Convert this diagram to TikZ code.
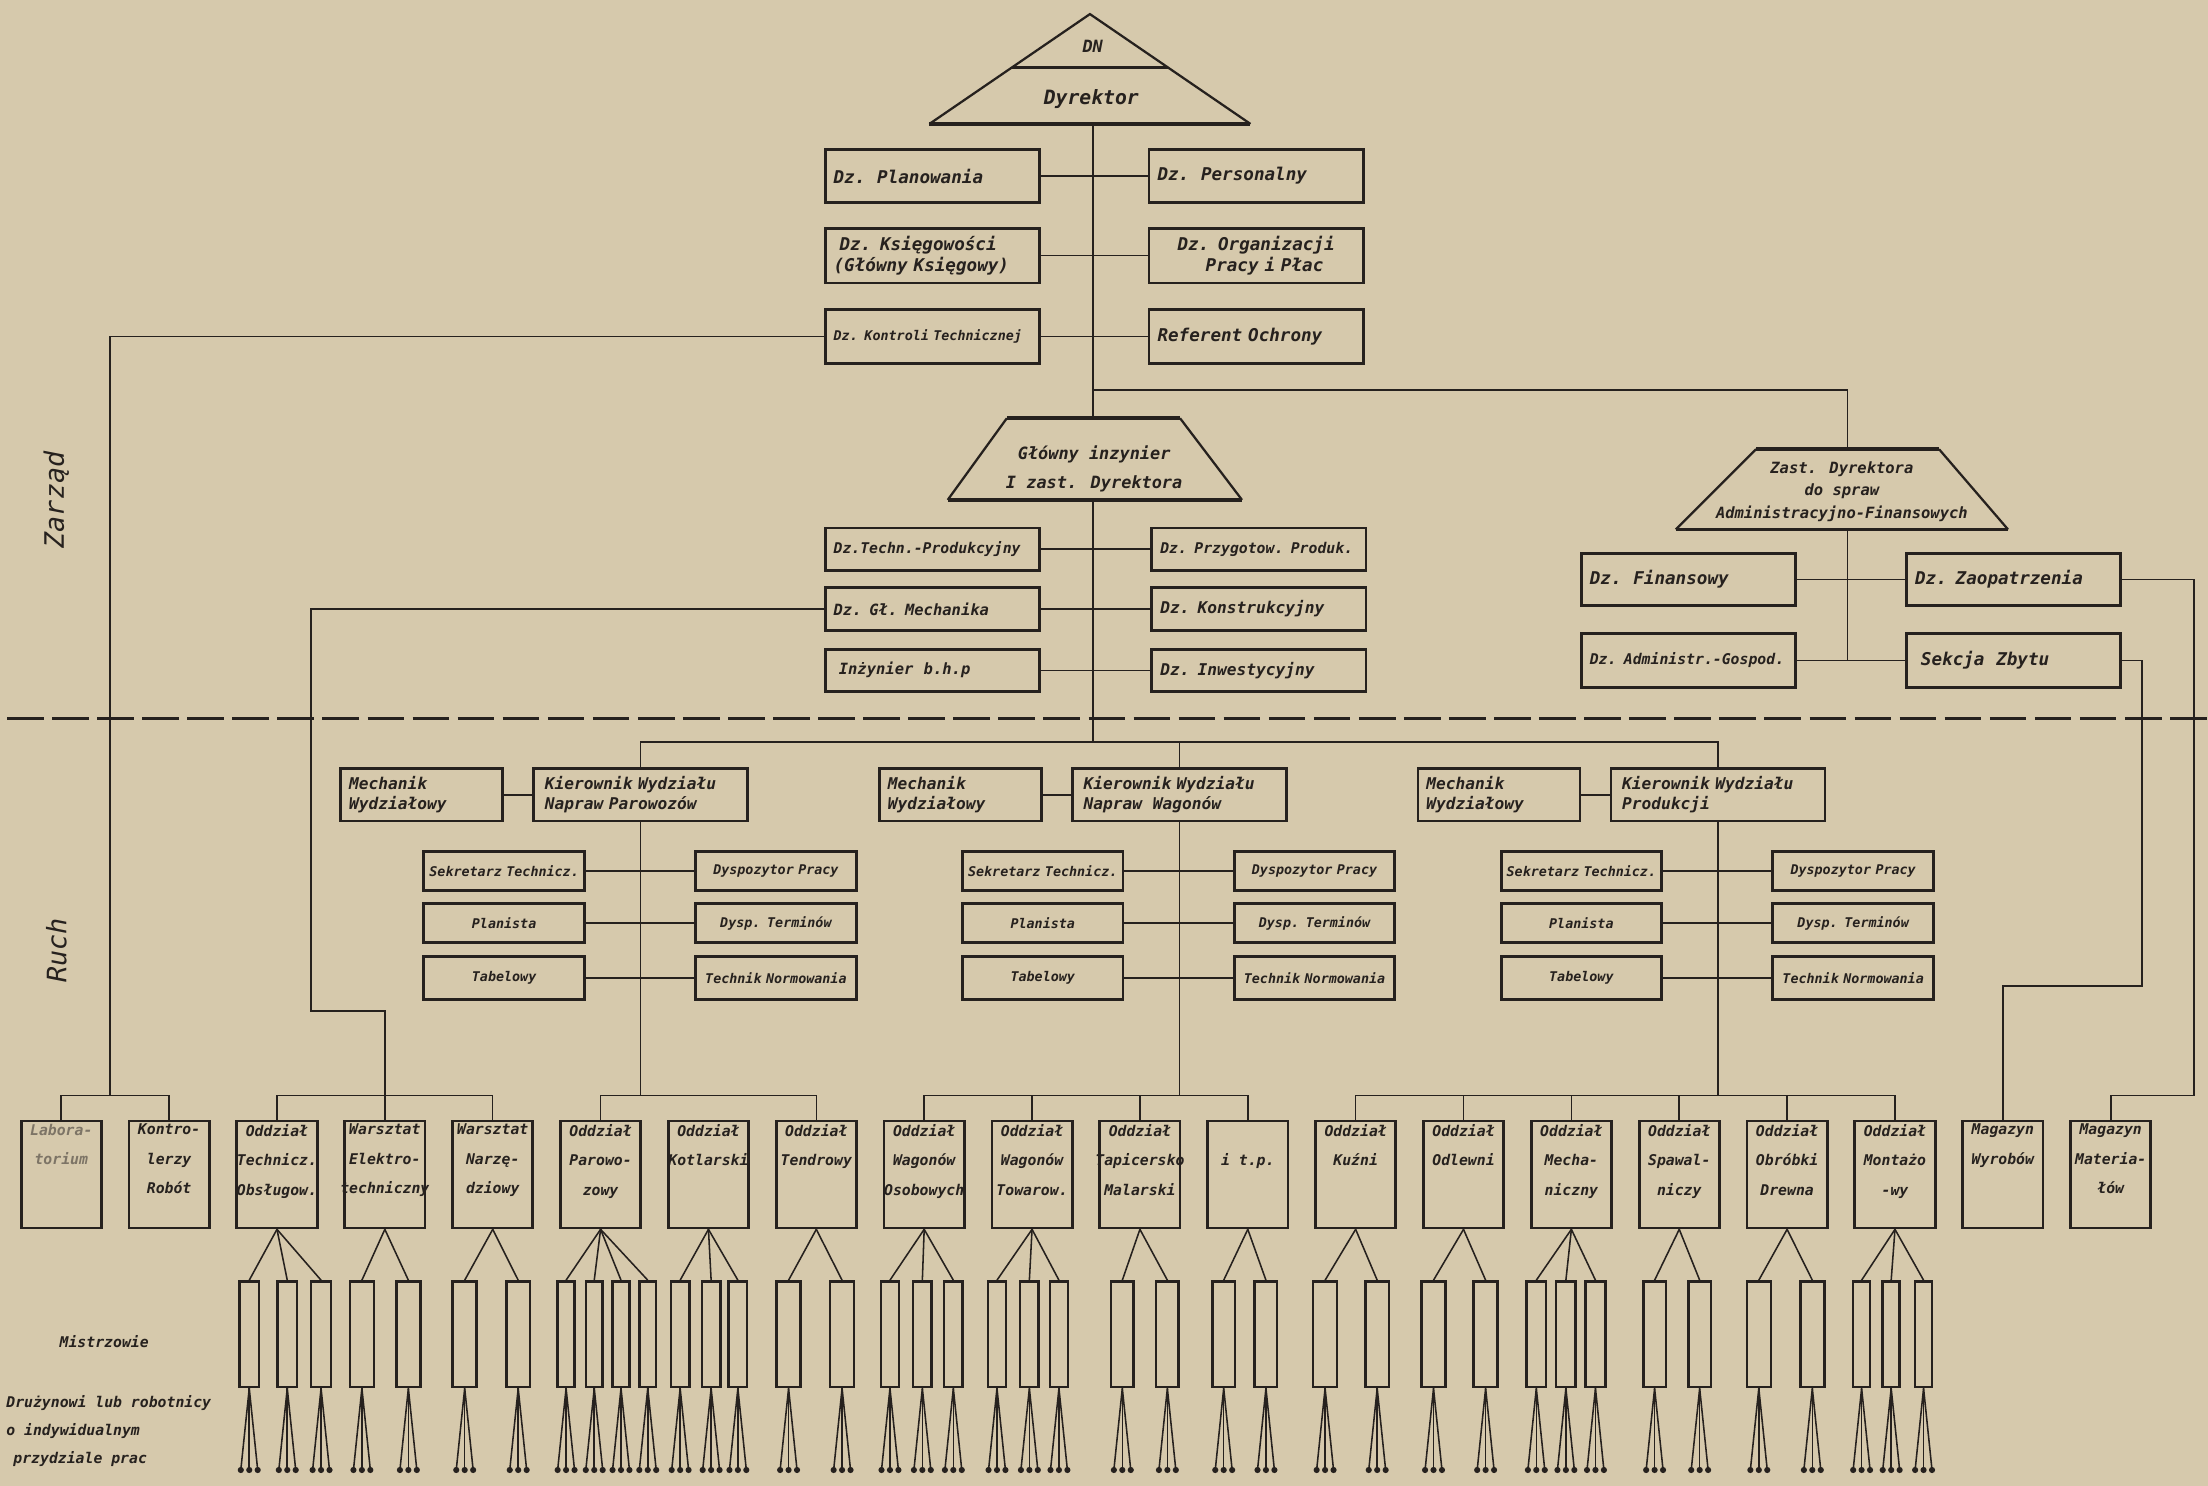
\documentclass[tikz,border=0pt]{standalone}
\usepackage{fontspec}
\usetikzlibrary{positioning}
\newfontfamily\techfont{DejaVu Sans Mono}
\newcommand{\techit}[2]{\techfont\bfseries\itshape\fontsize{#1}{#2}\selectfont}
\newcommand{\techlt}[2]{\techfont\itshape\fontsize{#1}{#2}\selectfont}
\definecolor{paper}{RGB}{214,201,172}
\definecolor{ink}{RGB}{38,33,30}
\definecolor{labgray}{RGB}{125,116,102}

\begin{document}
\begin{tikzpicture}[x=1pt,y=-1pt]
	\tikzset{every node/.style={text=ink},
		link/.style={draw=ink, line width=1.1pt},
		heavy/.style={draw=ink, line width=2.6pt},
		edgeline/.style={draw=ink, line width=1.6pt},
		box/.style={draw=ink, line width=2pt, rectangle, inner xsep=6pt, inner ysep=1pt, minimum width=152pt, minimum height=38pt, text width=140pt, align=left, font=\techit{12.5}{15}},
		gbox/.style={box, minimum height=30pt, font=\techit{10.5}{13}},
		kbox/.style={box, minimum height=37pt, inner xsep=8pt, text width=136pt, font=\techit{11.5}{14}},
		mbox/.style={box, minimum height=37pt, minimum width=115pt, text width=103pt, font=\techit{11.5}{14}},
		sbox/.style={box, minimum height=28pt, minimum width=114pt, text width=110pt, inner xsep=2pt, align=center, font=\techit{9.5}{11}},
		oddzial/.style={draw=ink, line width=2pt, minimum width=57pt, minimum height=76pt, inner sep=0pt},
		olabel/.style={anchor=north, inner sep=3pt, align=center, font=\techit{10.5}{21}},
		mistrz/.style={draw=ink, line width=1.8pt, minimum height=75pt, inner sep=0pt},
		sidelbl/.style={rotate=90, font=\techlt{19}{22}},
		note/.style={font=\techit{10.5}{20}}}

	\useasboundingbox (0,0) rectangle (1568,1055);
	\fill[paper] (0,0) rectangle (1568,1055);

	% Dyrektor
	\coordinate (dn-apex) at (774,10);
	\coordinate (dyr-b) at (776,88);
	\draw[edgeline] (660,88) -- (dn-apex) -- (888,88);
	\draw[heavy] (660,88) -- (888,88);
	\draw[heavy] (718.5,48) -- (829.5,48);
	\node[font=\techit{12}{14}] (dn) at (776,33) {DN};
	\node[font=\techit{14}{16}] (dyr) at (775,70) {Dyrektor};

	\node[box] (plan) at (662,125) {Dz.~~Planowania};
	\node[box, right=76pt of plan] (pers) {Dz.~~Personalny};
	\node[box, minimum height=39pt] (ksieg) at (662,181.5) {~Dz. Księgowości\\(Główny Księgowy)};
	\node[box, minimum height=39pt, align=center, right=76pt of ksieg] (org) {Dz. Organizacji\\\hspace*{12pt}Pracy i Płac};
	\node[box, font=\techit{9.5}{11}] (kontr) at (662,239) {Dz. Kontroli Technicznej};
	\node[box, right=76pt of kontr] (ochr) {Referent Ochrony};

	\draw[link] (plan) -- (pers);
	\draw[link] (ksieg) -- (org);
	\draw[link] (kontr) -- (ochr);

	% Glowny inzynier
	\coordinate (gi-t) at (776,297);
	\coordinate (gi-b) at (776,355);
	\draw[edgeline] (673,355) -- (715,297) (838,297) -- (882,355);
	\draw[heavy] (715,297) -- (838,297) (673,355) -- (882,355);
	\node[align=center, font=\techit{12}{20}] (gi) at (777,333) {Główny inzynier\\I zast. Dyrektora};

	\node[gbox] (techn) at (662,390) {Dz.Techn.-Produkcyjny};
	\node[gbox, right=78pt of techn] (przyg) {Dz. Przygotow. Produk.};
	\node[gbox, minimum height=31pt, font=\techit{11}{13}] (mech) at (662,432.5) {Dz. Gł. Mechanika};
	\node[gbox, minimum height=31pt, font=\techit{11.5}{13}, right=78pt of mech] (konstr) {Dz. Konstrukcyjny};
	\node[gbox, font=\techit{11}{13}] (bhp) at (662,476) {~Inżynier~~b.h.p};
	\node[gbox, font=\techit{11.5}{13}, right=78pt of bhp] (inw) {Dz. Inwestycyjny};

	\draw[link] (techn) -- (przyg);
	\draw[link] (mech) -- (konstr);
	\draw[link] (bhp) -- (inw);

	% Zast. Dyrektora
	\coordinate (j1) at (776,277);
	\coordinate (zast-t) at (1312,319);
	\coordinate (zast-b) at (1312,376);
	\draw[edgeline] (1190,376) -- (1247,319) (1377,319) -- (1426,376);
	\draw[heavy] (1247,319) -- (1377,319) (1190,376) -- (1426,376);
	\node[align=center, font=\techit{11}{16}] (zast) at (1308,349) {Zast. Dyrektora\\do spraw\\Administracyjno-Finansowych};

	\node[box, minimum height=37pt] (fin) at (1199,411.5) {Dz.~~Finansowy};
	\node[box, minimum height=37pt, right=77pt of fin] (zaop) {Dz. Zaopatrzenia};
	\node[box, font=\techit{10.5}{13}] (adm) at (1199,469) {Dz. Administr.-Gospod.};
	\node[box, right=77pt of adm] (zbyt) {~Sekcja~~Zbytu};

	\draw[link] (dyr-b) -- (gi-t);
	\draw[link] (j1) -| (zast-t);
	\draw[link] (zast-b) -- (zast-b |- adm.east);
	\draw[link] (fin) -- (zaop);
	\draw[link] (adm) -- (zbyt);

	% Zarzad / Ruch
	\draw[ink, line width=2pt, dash pattern=on 26pt off 6pt] (5,510) -- (1568,510);
	\node[sidelbl] (zarzad) at (40,355) {Zarząd};
	\node[sidelbl] (ruch) at (40,675) {Ruch};

	\coordinate (rb) at (776,527);
	\coordinate (lvl) at (0,778);

	\foreach \i/\dx/\kier in {1/0/{Napraw Parowozów}, 2/382.5/{Napraw~~Wagonów}, 3/765/{Produkcji}} {
		\node[mbox] (mw\i) at (299.5+\dx,564.5) {Mechanik\\Wydziałowy};
		\node[kbox, right=20pt of mw\i] (kw\i) {Kierownik Wydziału\\\kier};
		\node[sbox] (sek\i) at (358+\dx,618.5) {Sekretarz Technicz.};
		\node[sbox, right=77pt of sek\i] (dys\i) {Dyspozytor Pracy};
		\node[sbox] (pla\i) at (358+\dx,655.5) {Planista};
		\node[sbox, right=77pt of pla\i] (dt\i) {Dysp. Terminów};
		\node[sbox, minimum height=30pt] (tab\i) at (358+\dx,694.5) {Tabelowy};
		\node[sbox, minimum height=30pt, right=77pt of tab\i] (tn\i) {Technik Normowania};
		\draw[link] (mw\i) -- (kw\i);
		\foreach \a/\b in {sek/dys, pla/dt, tab/tn}
			\draw[link] (\a\i) -- (\b\i);
		\draw[link] (kw\i.south) -- (kw\i.south |- lvl);
	}

	\draw[link] (gi-b) -- (rb);
	\draw[link] (kw1.north) |- (kw3.north |- rb) -- (kw3.north);
	\draw[link] (kw2.north) -- (kw2.north |- rb);

	% oddzialy
	\foreach \n/\txt in {1/{\color{labgray}Labora-\\\color{labgray}torium}, 2/{Kontro-\\lerzy\\Robót},
		3/{Oddział\\Technicz.\\Obsługow.}, 4/{Warsztat\\Elektro-\\techniczny}, 5/{Warsztat\\Narzę-\\dziowy},
		6/{Oddział\\Parowo-\\zowy}, 7/{Oddział\\Kotlarski}, 8/{Oddział\\Tendrowy},
		9/{Oddział\\Wagonów\\Osobowych}, 10/{Oddział\\Wagonów\\Towarow.}, 11/{Oddział\\Tapicersko\\Malarski},
		12/{\phantom{Oddział}\\i t.p.}, 13/{Oddział\\Kuźni}, 14/{Oddział\\Odlewni},
		15/{Oddział\\Mecha-\\niczny}, 16/{Oddział\\Spawal-\\niczy}, 17/{Oddział\\Obróbki\\Drewna},
		18/{Oddział\\Montażo\\-wy}, 19/{Magazyn\\Wyrobów}, 20/{Magazyn\\Materia-\\łów}} {
		\node[oddzial] (o\n) at ({43.5+76.6*(\n-1)},834) {};
		\node[olabel] (t\n) at (o\n.north) {\txt};
	}

	\coordinate (ka) at (78,778);
	\coordinate (mk) at (221,718);
	\coordinate (zk1) at (1521,700);
	\coordinate (zk2) at (1558,778);
	\draw[link] (kontr.west) -| (ka);
	\draw[link] (o1.north) |- (o2.north |- lvl) -- (o2.north);
	\draw[link] (mech.west) -| (mk) -| (o4.north);
	\draw[link] (o3.north) |- (o5.north |- lvl) -- (o5.north);
	\draw[link] (o6.north) |- (o8.north |- lvl) -- (o8.north);
	\draw[link] (o9.north) |- (o12.north |- lvl) -- (o12.north);
	\draw[link] (o13.north) |- (o18.north |- lvl) -- (o18.north);
	\foreach \n in {10,11,14,15,16,17}
		\draw[link] (o\n.north) -- (o\n.north |- lvl);
	\draw[link] (zbyt.east) -| (zk1) -| (o19.north);
	\draw[link] (zaop.east) -| (zk2) -| (o20.north);

	% mistrzowie i robotnicy
	\foreach \d/\w/\xs in {3/14/{177,204,228}, 4/17/{257,290}, 5/17/{330,368}, 6/12/{402,422,441,460},
		7/13/{483,505,524}, 8/17/{560,598}, 9/13/{632,655,677}, 10/13/{708,731,752},
		11/16/{797,829}, 12/16/{869,899}, 13/17/{941,978}, 14/17/{1018,1055},
		15/14/{1091,1112,1133}, 16/16/{1175,1207}, 17/17/{1249,1287}, 18/12/{1322,1343,1366}} {
		\foreach \x in \xs {
			\node[mistrz, minimum width=\w*1pt] (m\d-\x) at (\x,947.5) {};
			\draw[link] (o\d.south) -- (m\d-\x.north);
			\foreach \k in {-6,0,6} {
				\draw[link] (m\d-\x.south) -- ++(\k,58) coordinate (r);
				\fill[ink] (r) circle (2.2pt);
			}
		}
	}

	\node[note] (mistrzowie) at (74,953) {Mistrzowie};
	\node[note, anchor=west, align=left] (druz) at (1,1016) {Drużynowi lub robotnicy\\o indywidualnym\\\hspace*{5pt}przydziale prac};
\end{tikzpicture}
\end{document}
